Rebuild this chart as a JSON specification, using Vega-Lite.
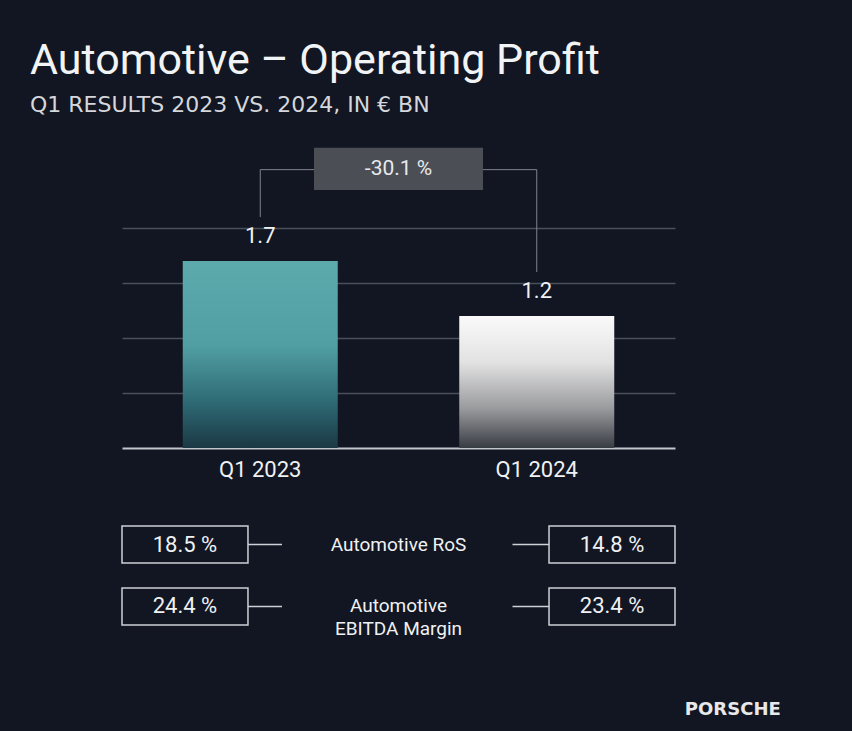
{
  "$schema": "https://vega.github.io/schema/vega-lite/v6.json",
  "background": "#111622",
  "padding": {"left": 30, "top": 40, "right": 72, "bottom": 14},
  "title": {
    "text": "Automotive – Operating Profit",
    "subtitle": "Q1 RESULTS 2023 VS. 2024, IN € BN",
    "anchor": "start",
    "frame": "group",
    "dx": -92,
    "font": "Roboto",
    "fontSize": 43,
    "fontWeight": 400,
    "color": "#f2f3f5",
    "subtitleFont": "DejaVu Sans",
    "subtitleFontSize": 22,
    "subtitleColor": "#d5d7db",
    "subtitlePadding": 12,
    "offset": 30
  },
  "datasets": {
    "bars": [
      {"period": "Q1 2023", "value": 1.7},
      {"period": "Q1 2024", "value": 1.2}
    ],
    "change": [
      {"from": "Q1 2023", "to": "Q1 2024", "period": "Change", "change": -30.1}
    ],
    "kpis": [
      {"metric": "Automotive RoS", "period": "Q1 2023", "value": 18.5},
      {"metric": "Automotive RoS", "period": "Q1 2024", "value": 14.8},
      {"metric": "Automotive\nEBITDA Margin", "period": "Q1 2023", "value": 24.4},
      {"metric": "Automotive\nEBITDA Margin", "period": "Q1 2024", "value": 23.4}
    ]
  },
  "spacing": 45,
  "vconcat": [
    {
      "width": 553,
      "height": 302,
      "layer": [
        {
          "data": {"name": "bars"},
          "mark": {"type": "bar", "width": 155},
          "encoding": {
            "x": {
              "field": "period",
              "type": "nominal",
              "scale": {"domain": ["Q1 2023", "Change", "Q1 2024"], "paddingInner": 0, "paddingOuter": 0.5},
              "axis": {
                "values": ["Q1 2023", "Q1 2024"],
                "title": null,
                "ticks": false,
                "labelAngle": 0,
                "labelFontSize": 22,
                "labelColor": "#f0f1f3",
                "labelPadding": 11,
                "domainColor": "#c3c6cc",
                "domainWidth": 2,
                "grid": false
              }
            },
            "y": {
              "field": "value",
              "type": "quantitative",
              "scale": {"domain": [0, 2.745], "nice": false},
              "axis": {
                "values": [0.5, 1, 1.5, 2],
                "title": null,
                "labels": false,
                "ticks": false,
                "domain": false,
                "grid": true,
                "gridColor": "#4a4f59",
                "gridWidth": 1.5
              }
            },
            "fill": {
              "condition": {
                "test": "datum.period === 'Q1 2023'",
                "value": {
                  "gradient": "linear", "x1": 0, "y1": 0, "x2": 0, "y2": 1,
                  "stops": [
                    {"offset": 0, "color": "#5caaac"},
                    {"offset": 0.45, "color": "#519fa3"},
                    {"offset": 0.75, "color": "#2f6b75"},
                    {"offset": 1, "color": "#1a3844"}
                  ]
                }
              },
              "value": {
                "gradient": "linear", "x1": 0, "y1": 0, "x2": 0, "y2": 1,
                "stops": [
                  {"offset": 0, "color": "#fafafa"},
                  {"offset": 0.35, "color": "#e2e2e3"},
                  {"offset": 0.7, "color": "#9a9b9e"},
                  {"offset": 1, "color": "#383c43"}
                ]
              }
            }
          }
        },
        {
          "data": {"name": "bars"},
          "mark": {"type": "text", "baseline": "bottom", "dy": -13, "fontSize": 22, "color": "#f0f1f3"},
          "encoding": {
            "x": {"field": "period", "type": "nominal"},
            "y": {"field": "value", "type": "quantitative"},
            "text": {"field": "value", "format": ".1f"}
          }
        },
        {
          "data": {"name": "bars"},
          "mark": {"type": "rule", "color": "#80838b", "strokeWidth": 1, "yOffset": -44},
          "encoding": {
            "x": {"field": "period", "type": "nominal", "bandPosition": 0.5},
            "y": {"field": "value", "type": "quantitative"},
            "y2": {"datum": 2.53}
          }
        },
        {
          "data": {"name": "change"},
          "mark": {"type": "rule", "color": "#80838b", "strokeWidth": 1},
          "encoding": {
            "x": {"field": "from", "type": "nominal", "bandPosition": 0.5},
            "x2": {"field": "to", "bandPosition": 0.5},
            "y": {"datum": 2.53}
          }
        },
        {
          "data": {"name": "change"},
          "mark": {"type": "bar", "width": 169, "color": "#4b4e55"},
          "encoding": {
            "x": {"field": "period", "type": "nominal"},
            "y": {"datum": 2.345},
            "y2": {"datum": 2.73}
          }
        },
        {
          "data": {"name": "change"},
          "transform": [{"calculate": "replace(format(datum.change, '.1f'), '\u2212', '-') + ' %'", "as": "label"}],
          "mark": {"type": "text", "fontSize": 21, "color": "#e8e9eb"},
          "encoding": {
            "x": {"field": "period", "type": "nominal"},
            "y": {"datum": 2.535},
            "text": {"field": "label"}
          }
        }
      ]
    },
    {
      "width": 553,
      "height": 99,
      "data": {"name": "kpis"},
      "title": {
        "text": "PORSCHE",
        "orient": "bottom",
        "anchor": "end",
        "font": "DejaVu Sans",
        "fontWeight": "bold",
        "fontSize": 18,
        "color": "#e8e8ea",
        "offset": 62,
        "dx": 105
      },
      "layer": [
        {
          "mark": {"type": "rect", "fill": "transparent", "stroke": "#cdd0d5", "strokeWidth": 1.5},
          "encoding": {
            "x": {
              "field": "period",
              "type": "nominal",
              "scale": {"domain": ["Q1 2023", "Q1 2024"], "paddingInner": 0.705, "paddingOuter": 0},
              "axis": null
            },
            "y": {
              "field": "metric",
              "type": "nominal",
              "scale": {"domain": ["Automotive RoS", "Automotive\nEBITDA Margin"], "paddingInner": 0.403, "paddingOuter": 0},
              "axis": null
            }
          }
        },
        {
          "transform": [{"calculate": "format(datum.value, '.1f') + ' %'", "as": "label"}],
          "mark": {"type": "text", "fontSize": 22, "color": "#f0f1f3"},
          "encoding": {
            "x": {"field": "period", "type": "nominal"},
            "y": {"field": "metric", "type": "nominal"},
            "text": {"field": "label"}
          }
        },
        {
          "transform": [{"filter": "datum.period === 'Q1 2023'"}],
          "mark": {"type": "rule", "color": "#cdd0d5", "strokeWidth": 1.5},
          "encoding": {
            "x": {"field": "period", "type": "nominal", "bandPosition": 1},
            "x2": {"field": "period", "bandPosition": 1.27},
            "y": {"field": "metric", "type": "nominal", "bandPosition": 0.5}
          }
        },
        {
          "transform": [{"filter": "datum.period === 'Q1 2024'"}],
          "mark": {"type": "rule", "color": "#cdd0d5", "strokeWidth": 1.5},
          "encoding": {
            "x": {"field": "period", "type": "nominal", "bandPosition": -0.29},
            "x2": {"field": "period", "bandPosition": 0},
            "y": {"field": "metric", "type": "nominal", "bandPosition": 0.5}
          }
        },
        {
          "transform": [{"filter": "datum.period === 'Q1 2023'"}],
          "mark": {"type": "text", "fontSize": 19, "fontWeight": "normal", "color": "#f0f1f3", "lineBreak": "\n", "lineHeight": 23},
          "encoding": {
            "y": {"field": "metric", "type": "nominal"},
            "text": {"field": "metric"}
          }
        }
      ]
    }
  ],
  "config": {
    "font": "Roboto",
    "view": {"stroke": null}
  }
}
